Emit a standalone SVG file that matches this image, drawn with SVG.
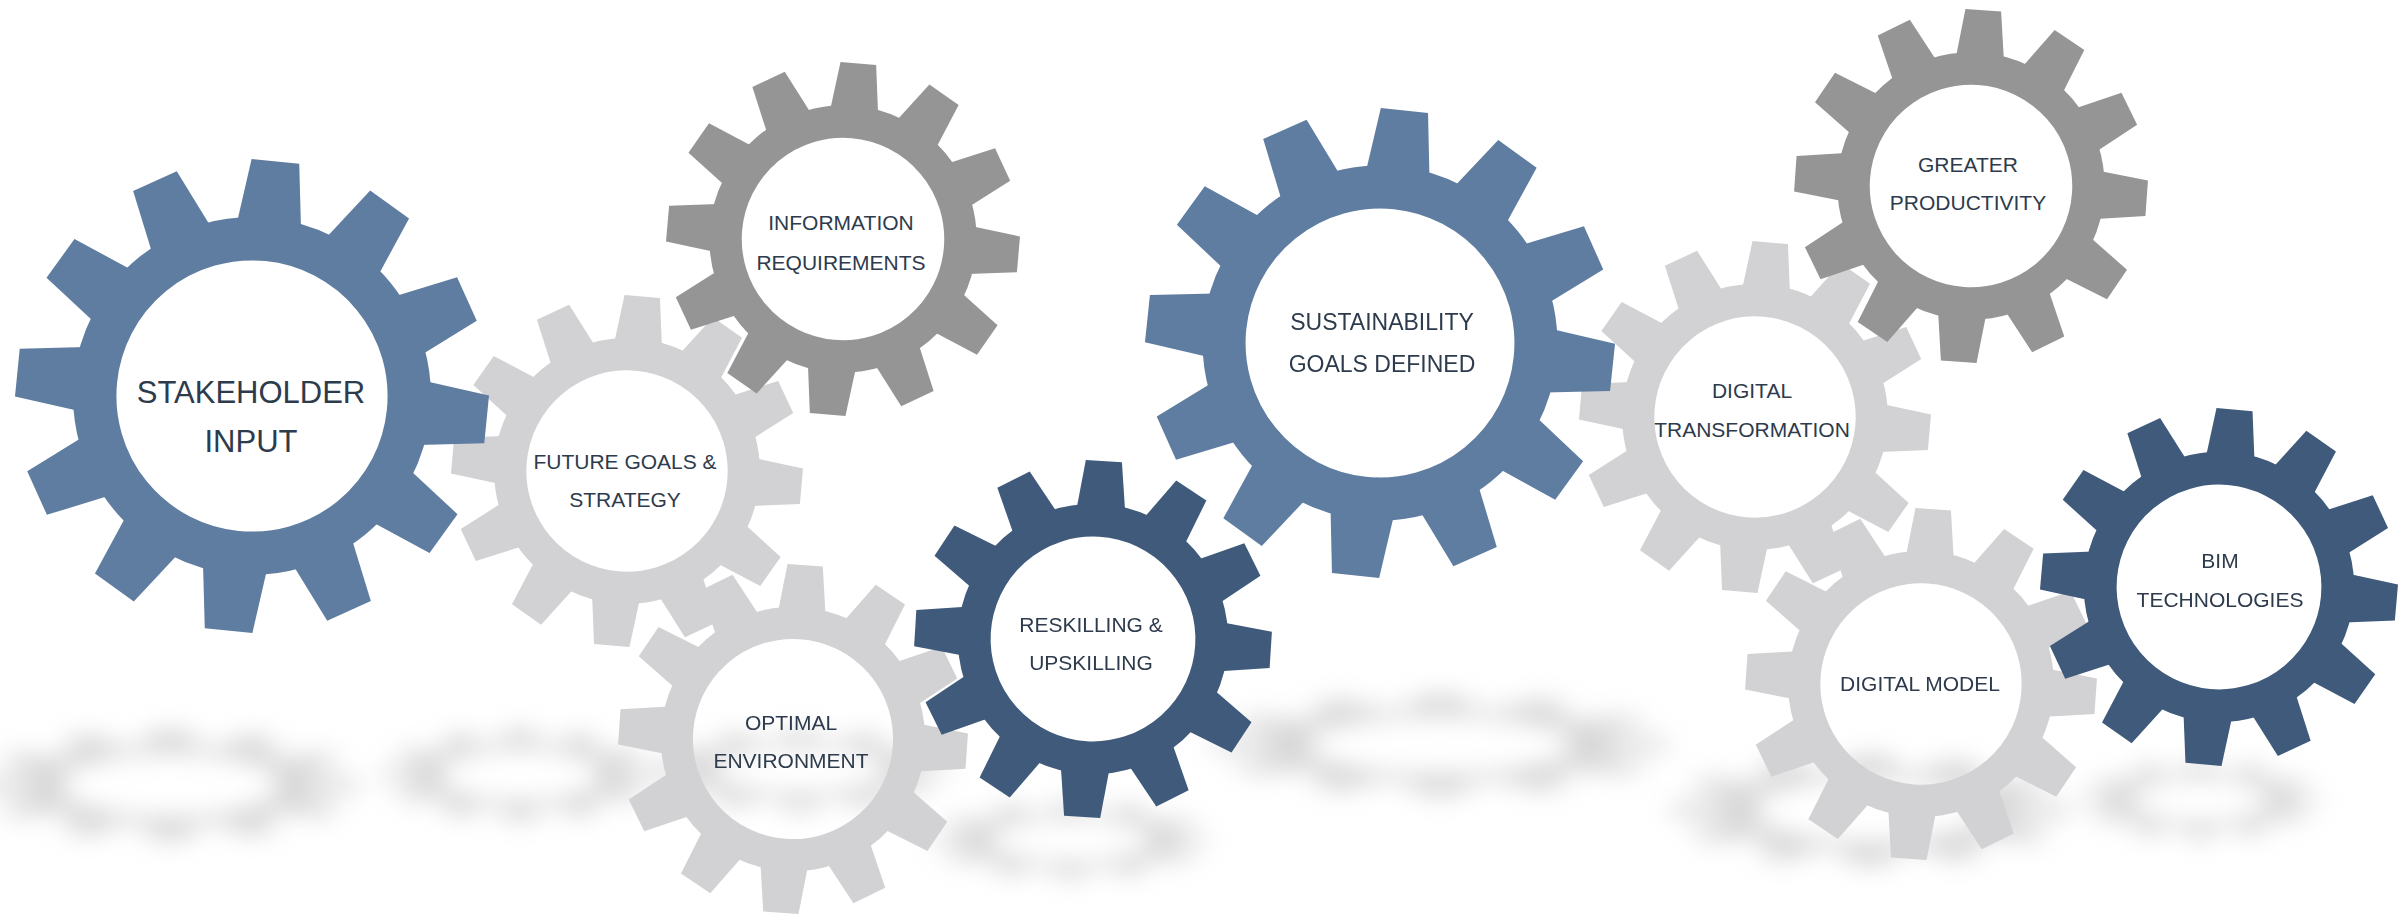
<svg xmlns="http://www.w3.org/2000/svg" width="2407" height="917" viewBox="0 0 2407 917">
<style>
  .blue { color: #5f7da1; }
  .dblue { color: #3f5a7a; }
  .dgray { color: #959595; }
  .lgray { color: #d2d1d3; }
  .shadow { color: #bdbdbd; }
  text { font-family: "Liberation Sans", Arial, sans-serif; fill: #2d3b4c; text-anchor: middle; }
  .t31 { font-size: 31px; }
  .t23 { font-size: 23px; }
  .t21 { font-size: 21px; }
</style>
<defs>
  <polygon id="tooth" points="72,-13.6 99.5,-10.1 99.5,10.1 72,13.6" fill="currentColor"/>
  <g id="gear">
    <circle r="66.35" fill="none" stroke="currentColor" stroke-width="18.3"/>
    <use href="#tooth"/>
    <use href="#tooth" transform="rotate(30)"/>
    <use href="#tooth" transform="rotate(60)"/>
    <use href="#tooth" transform="rotate(90)"/>
    <use href="#tooth" transform="rotate(120)"/>
    <use href="#tooth" transform="rotate(150)"/>
    <use href="#tooth" transform="rotate(180)"/>
    <use href="#tooth" transform="rotate(210)"/>
    <use href="#tooth" transform="rotate(240)"/>
    <use href="#tooth" transform="rotate(270)"/>
    <use href="#tooth" transform="rotate(300)"/>
    <use href="#tooth" transform="rotate(330)"/>
  </g>
  <filter id="blur" x="-20%" y="-60%" width="140%" height="220%">
    <feGaussianBlur stdDeviation="12"/>
  </filter>
</defs>
<rect width="2407" height="917" fill="#ffffff"/>

<g id="shadows" class="shadow" filter="url(#blur)" opacity="0.6">
  <use href="#gear" transform="translate(170,785) scale(1.9,0.55)"/>
  <use href="#gear" transform="translate(520,775) scale(1.4,0.45)"/>
  <use href="#gear" transform="translate(800,770) scale(1.5,0.4)"/>
  <use href="#gear" transform="translate(1070,840) scale(1.4,0.38)"/>
  <use href="#gear" transform="translate(1440,745) scale(2.3,0.5)"/>
  <use href="#gear" transform="translate(1870,810) scale(2.0,0.55)"/>
  <use href="#gear" transform="translate(2200,800) scale(1.2,0.38)"/>
</g>

<g id="gear-future-goals" class="lgray">
  <use href="#gear" transform="translate(627,471) rotate(5) scale(1.76)"/>
  <text class="t21" x="625" y="469">FUTURE GOALS &amp;</text>
  <text class="t21" x="625" y="507">STRATEGY</text>
</g>
<g id="gear-optimal-environment" class="lgray">
  <use href="#gear" transform="translate(793,739) rotate(4) scale(1.75)"/>
  <text class="t21" x="791" y="730">OPTIMAL</text>
  <text class="t21" x="791" y="768">ENVIRONMENT</text>
</g>
<g id="gear-digital-transformation" class="lgray">
  <use href="#gear" transform="translate(1755,417) rotate(5) scale(1.76)"/>
  <text class="t21" x="1752" y="398">DIGITAL</text>
  <text class="t21" x="1752" y="437">TRANSFORMATION</text>
</g>
<g id="gear-digital-model" class="lgray">
  <use href="#gear" transform="translate(1921,684) rotate(4) scale(1.76)"/>
  <text class="t21" x="1920" y="691">DIGITAL MODEL</text>
</g>
<g id="gear-information-requirements" class="dgray">
  <use href="#gear" transform="translate(843,239) rotate(5) scale(1.77)"/>
  <text class="t21" x="841" y="230">INFORMATION</text>
  <text class="t21" x="841" y="270">REQUIREMENTS</text>
</g>
<g id="gear-greater-productivity" class="dgray">
  <use href="#gear" transform="translate(1971,186) rotate(4) scale(1.77)"/>
  <text class="t21" x="1968" y="172">GREATER</text>
  <text class="t21" x="1968" y="210">PRODUCTIVITY</text>
</g>
<g id="gear-stakeholder-input" class="blue">
  <use href="#gear" transform="translate(252,396) rotate(5.7) scale(2.37)"/>
  <text class="t31" x="251" y="403">STAKEHOLDER</text>
  <text class="t31" x="251" y="452">INPUT</text>
</g>
<g id="gear-reskilling" class="dblue">
  <use href="#gear" transform="translate(1093,639) rotate(3.5) scale(1.79)"/>
  <text class="t21" x="1091" y="632">RESKILLING &amp;</text>
  <text class="t21" x="1091" y="670">UPSKILLING</text>
</g>
<g id="gear-sustainability" class="blue">
  <use href="#gear" transform="translate(1380,343) rotate(6) scale(2.35)"/>
  <text class="t23" x="1382" y="330">SUSTAINABILITY</text>
  <text class="t23" x="1382" y="372">GOALS DEFINED</text>
</g>
<g id="gear-bim" class="dblue">
  <use href="#gear" transform="translate(2219,587) rotate(5) scale(1.79)"/>
  <text class="t21" x="2220" y="568">BIM</text>
  <text class="t21" x="2220" y="607">TECHNOLOGIES</text>
</g>
</svg>
